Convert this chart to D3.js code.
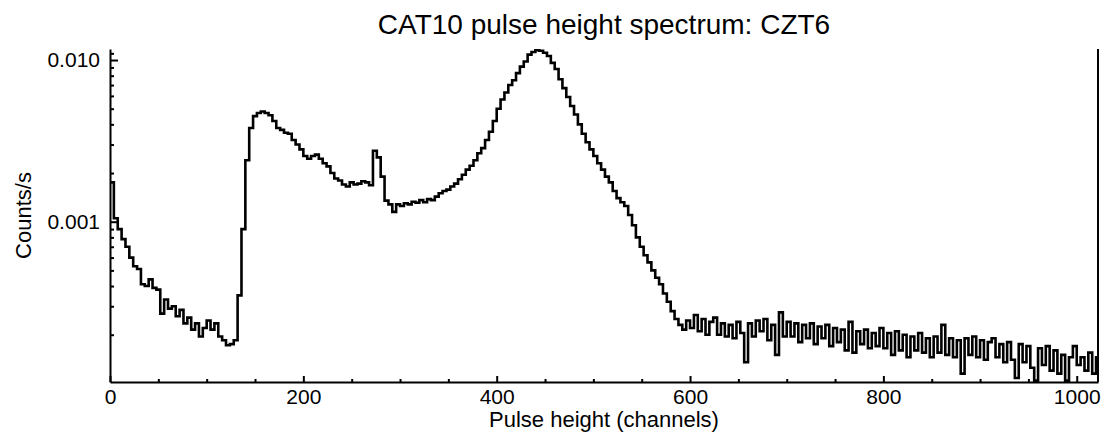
<!DOCTYPE html>
<html lang="en">

<head>
    <meta charset="UTF-8">
    <title>CAT10 pulse height spectrum: CZT6</title>
    <script src="https://d3js.org/d3.v7.min.js"></script>
    <style>
        body {
            margin: 0;
            background-color: #ffffff;
        }

        svg text {
            font-family: "Liberation Sans", Arial, Helvetica, sans-serif;
            fill: #000;
        }

        .axis path,
        .axis line {
            stroke: #000;
            stroke-width: 2px;
        }

        .spectrum {
            fill: none;
            stroke: #000;
            stroke-width: 2.6px;
            stroke-linejoin: miter;
        }
    </style>
</head>

<body>
    <svg id="chart" width="1106" height="434"></svg>

    <script>
        // channel width of each histogram bin
        const binWidth = 4;

        // counts/s in units of 1e-4, one value per 4-channel bin (ch 0 .. 1020)
        const rateE4 = [
            17.5, 10.5, 9.0, 7.8, 7.0, 6.0, 5.3, 5.1, 4.1, 4.0, 4.4, 3.9, 3.8, 2.7, 3.3, 2.9,
            3.0, 2.6, 2.85, 2.35, 2.55, 2.15, 2.35, 1.95, 2.2, 2.45, 2.15, 2.35, 1.95, 1.85, 1.72, 1.75,
            1.85, 3.5, 9.0, 24, 38, 45, 47, 48, 47, 45.5, 42, 38, 37, 35.5, 35, 32,
            30, 28, 25.5, 24.5, 25.5, 26, 24.5, 23, 22, 20, 18.5, 18, 17, 16.5, 17.5, 17,
            17.2, 17.8, 17.5, 16.8, 27.5, 25, 19, 13.5, 12.8, 11.5, 12.8, 12.5, 13, 12.8, 13.3, 13.1,
            13.6, 13.2, 13.8, 13.6, 14.3, 15, 15.5, 15.8, 16.5, 17.2, 18.3, 19.5, 21, 22.2, 24, 26.5,
            28.5, 32, 36, 42, 50, 57, 63, 70, 75, 83, 91, 98, 108, 112, 115, 114,
            111, 106, 96, 88, 76, 67, 59, 52, 46, 40, 35, 31, 28, 25.5, 23, 21,
            19, 17.5, 15.5, 14, 13.2, 12.5, 11, 9.5, 8, 7, 6.2, 5.6, 5, 4.5, 4.1, 3.6,
            3.2, 2.8, 2.5, 2.3, 2.15, 2.45, 2.2, 2.65, 2.1, 2.5, 2.0, 2.4, 2.55, 2.0, 2.35, 1.95,
            2.3, 1.9, 2.4, 2.05, 1.35, 2.35, 1.95, 2.45, 2.1, 2.5, 1.85, 2.3, 1.5, 2.75, 1.95, 2.4,
            1.95, 2.35, 1.8, 2.3, 1.9, 2.35, 1.75, 2.25, 1.9, 2.3, 1.7, 2.2, 1.8, 2.15, 1.6, 2.4,
            1.55, 2.1, 1.75, 2.15, 1.65, 2.05, 1.7, 2.2, 1.65, 2.05, 1.5, 2.1, 1.6, 2.0, 1.45, 1.95,
            1.6, 2.05, 1.55, 1.9, 1.45, 1.95, 1.55, 2.3, 1.5, 1.9, 1.45, 1.85, 1.15, 1.9, 1.5, 1.95,
            1.45, 1.85, 1.4, 1.8, 1.9, 1.45, 1.75, 1.35, 1.8, 1.4, 1.08, 1.75, 1.35, 1.7, 1.25, 1.04,
            1.65, 1.3, 1.7, 1.2, 1.6, 1.15, 1.5, 1.04, 1.45, 1.7, 1.3, 1.45, 1.2, 1.55, 1.15, 1.45
        ];

        // axis ticks
        const xMajorTicks = [0, 200, 400, 600, 800, 1000];
        const xMinorTicks = [50, 100, 150, 250, 300, 350, 450, 500, 550, 650, 700, 750, 850, 900, 950];
        const yMajorTicks = [0.001, 0.01];
        const yMajorLabels = ["0.001", "0.010"];
        const yMinorTicks = [0.0002, 0.0003, 0.0004, 0.0005, 0.0006, 0.0007, 0.0008, 0.0009,
            0.002, 0.003, 0.004, 0.005, 0.006, 0.007, 0.008, 0.009, 0.011];

        const xDomain = [0, 1022];
        const yDomain = [1.02e-4, 0.0117];

        const plotLeft = 110, plotRight = 1098, plotTop = 49, plotBottom = 382;

        const svg = d3.select("#chart");

        const x = d3.scaleLinear().domain(xDomain).range([plotLeft, plotRight]);
        const y = d3.scaleLog().domain(yDomain).range([plotBottom, plotTop]);

        // build step points from the bins
        const points = rateE4.map((v, i) => ({ ch: i * binWidth, v: v * 1e-4 }));
        points.push({ ch: rateE4.length * binWidth, v: rateE4[rateE4.length - 1] * 1e-4 });

        svg.append("clipPath")
            .attr("id", "plot-clip")
            .append("rect")
            .attr("x", plotLeft)
            .attr("y", plotTop - 2)
            .attr("width", plotRight - plotLeft)
            .attr("height", plotBottom - plotTop + 2);

        const line = d3.line()
            .x(d => x(d.ch))
            .y(d => y(Math.max(d.v, yDomain[0])))
            .curve(d3.curveStepAfter);

        svg.append("path")
            .datum(points)
            .attr("class", "spectrum")
            .attr("clip-path", "url(#plot-clip)")
            .attr("d", line);

        // x axis: major with labels, minor without
        svg.append("g")
            .attr("class", "axis")
            .attr("transform", `translate(0,${plotBottom})`)
            .call(d3.axisBottom(x).tickValues(xMajorTicks).tickSize(-6).tickSizeOuter(0).tickPadding(7)
                .tickFormat(d3.format("d")))
            .call(g => g.selectAll("text").attr("font-size", 21));

        svg.append("g")
            .attr("class", "axis")
            .attr("transform", `translate(0,${plotBottom})`)
            .call(d3.axisBottom(x).tickValues(xMinorTicks).tickSize(-3).tickFormat(""))
            .call(g => g.select(".domain").remove());

        // y axis
        svg.append("g")
            .attr("class", "axis")
            .attr("transform", `translate(${plotLeft},0)`)
            .call(d3.axisLeft(y).tickValues(yMajorTicks).tickSize(-8).tickSizeOuter(0).tickPadding(10)
                .tickFormat((d, i) => yMajorLabels[i]))
            .call(g => g.selectAll("text").attr("font-size", 21));

        svg.append("g")
            .attr("class", "axis")
            .attr("transform", `translate(${plotLeft},0)`)
            .call(d3.axisLeft(y).tickValues(yMinorTicks).tickSize(-4).tickFormat(""))
            .call(g => g.select(".domain").remove());

        // right frame line
        svg.append("line")
            .attr("x1", plotRight).attr("x2", plotRight)
            .attr("y1", plotTop).attr("y2", plotBottom)
            .attr("stroke", "#000")
            .attr("stroke-width", 2);

        // titles
        svg.append("text")
            .attr("x", (plotLeft + plotRight) / 2)
            .attr("y", 34)
            .attr("text-anchor", "middle")
            .attr("font-size", 28)
            .text("CAT10 pulse height spectrum: CZT6");

        svg.append("text")
            .attr("x", (plotLeft + plotRight) / 2)
            .attr("y", 427)
            .attr("text-anchor", "middle")
            .attr("font-size", 22)
            .text("Pulse height (channels)");

        svg.append("text")
            .attr("transform", `translate(31,${(plotTop + plotBottom) / 2}) rotate(-90)`)
            .attr("text-anchor", "middle")
            .attr("font-size", 22)
            .text("Counts/s");
    </script>
</body>

</html>
